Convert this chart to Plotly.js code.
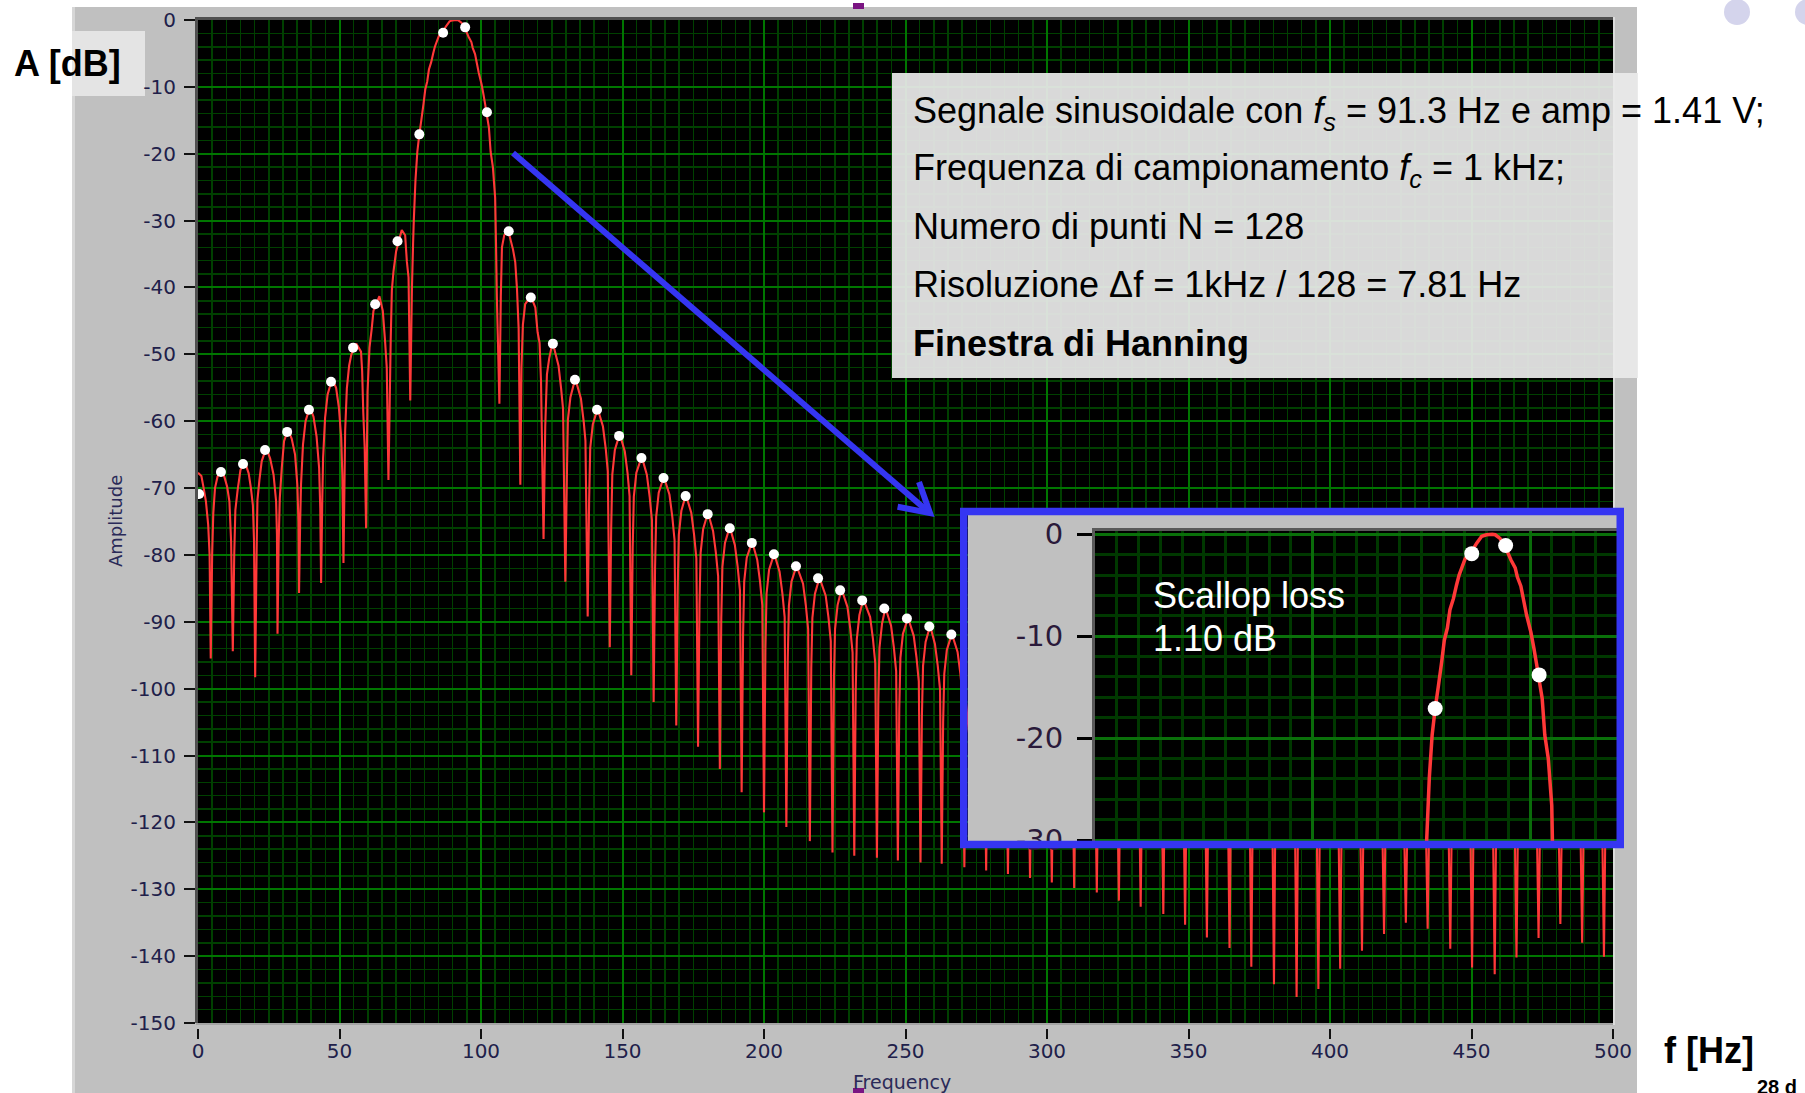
<!DOCTYPE html>
<html><head><meta charset="utf-8">
<script src="https://cdn.plot.ly/plotly-3.0.1.min.js"></script>
<style>html,body{margin:0;padding:0;background:#fff;overflow:hidden}#chart{width:1805px;height:1093px}</style>
</head><body><div id="chart"></div>
<script>
// ---------------- data ----------------
// red curve: zero-padded spectrum, frequency [Hz]
const specF = [
  0, 1.2, 2.0, 2.8, 3.6, 4.1, 4.5,
  5.0, 5.4, 6.0, 6.9, 8.1, 9.3, 10.3, 11.1, 11.7, 12.3,
  12.8, 13.2, 14.0, 15.0, 16.5, 17.9, 18.7, 19.4, 19.8, 20.2,
  20.7, 21.0, 21.7, 22.5, 24.1, 25.5, 26.7, 27.6, 27.9, 28.1,
  28.5, 28.9, 29.6, 30.4, 31.8, 33.1, 34.3, 35.1, 35.5, 35.7,
  36.1, 36.4, 37.1, 38.0, 39.5, 40.8, 41.9, 42.8, 43.2, 43.5,
  43.9, 44.2, 44.9, 45.8, 47.4, 48.8, 49.8, 50.6, 51.0, 51.4,
  51.8, 52.0, 52.6, 53.4, 54.2, 55.9, 57.6, 58.0, 58.4, 58.9, 59.4,
  59.9, 60.6, 61.4, 62.0, 64.1, 65.3, 66.1, 66.7, 67.3,
  68.1, 68.5, 69.1, 70.0, 72.0, 73.2, 73.8, 74.4, 75.0,
  75.6, 76.0, 76.25, 76.85, 77.5, 78.2, 78.9, 79.7, 80.3, 81.0, 81.6, 82.4, 83.1, 83.7, 84.4, 85.1,
  86.6, 87.7, 88.9, 90.0, 91.3, 92.0, 93.1, 94.4, 95.6, 96.6, 97.1, 97.9, 98.5, 99.2, 100.2, 100.9,
  101.5, 102.1, 102.8, 103.4, 104.2, 105.0, 105.3, 105.6, 106.0, 106.5,
  107.0, 107.4, 108.2, 109.5, 111.3, 112.1, 112.7, 113.3, 113.9,
  114.3, 114.8, 115.6, 117.6, 119.2, 120.0, 120.7, 121.2, 122.1,
  122.7, 123.3, 124.1, 125.3, 127.4, 128.3, 129.0, 129.8,
  130.4, 130.7, 131.6, 133.3, 135.3, 136.3, 136.9, 137.7,
  138.2, 138.6, 139.5, 141.2, 143.1, 144.1, 144.8, 145.5,
  146.0, 146.4, 147.3, 149.0, 150.8, 151.8, 152.5, 153.1,
  153.6, 154.0, 154.9, 156.8, 158.6, 159.6, 160.4, 161.0,
  161.5, 161.9, 162.8, 164.6, 166.6, 167.6, 168.4, 169.0,
  169.5, 169.9, 170.8, 172.4, 174.3, 175.3, 176.1, 176.7,
  177.2, 177.6, 178.5, 180.2, 182.0, 183.0, 183.8, 184.4,
  184.9, 185.3, 186.2, 187.9, 189.7, 190.7, 191.5, 192.1,
  192.6, 193.0, 193.9, 195.8, 197.6, 198.6, 199.4, 200.0,
  200.5, 200.9, 201.8, 203.6, 205.5, 206.5, 207.3, 207.9,
  208.4, 208.8, 209.7, 211.5, 213.8, 214.8, 215.6, 216.2,
  216.7, 217.1, 218.0, 219.6, 221.8, 222.8, 223.6, 224.2,
  224.7, 225.1, 226.0, 227.4, 229.5, 230.5, 231.3, 231.9,
  232.4, 232.8, 233.7, 235.1, 237.5, 238.5, 239.3, 239.9,
  240.4, 240.8, 241.7, 242.9, 244.9, 245.9, 246.7, 247.3,
  247.8, 248.2, 249.1, 250.9, 252.9, 253.9, 254.7, 255.3,
  255.8, 256.2, 257.1, 258.7, 260.4, 261.4, 262.2, 262.8,
  263.3, 263.7, 264.6, 266.4, 268.4, 269.4, 270.2, 270.8,
  271.3, 274.6, 277.9, 278.5,
  279.0, 282.4, 285.6, 286.2,
  286.7, 290.1, 293.4, 294.0,
  294.5, 297.9, 301.1, 301.7,
  302.2, 305.7, 309.0, 309.6,
  310.1, 313.6, 317.0, 317.6,
  318.1, 321.5, 324.8, 325.4,
  325.9, 329.3, 332.5, 333.1,
  333.6, 337.1, 340.5, 341.1,
  341.6, 345.0, 348.2, 348.8,
  349.3, 352.7, 355.9, 356.5,
  357.0, 360.5, 363.9, 364.5,
  365.0, 368.4, 371.6, 372.2,
  372.7, 376.2, 379.6, 380.2,
  380.7, 384.2, 387.6, 388.2,
  388.7, 392.1, 395.3, 395.9,
  396.4, 399.8, 403.0, 403.6,
  404.1, 407.5, 410.7, 411.3,
  411.8, 415.2, 418.5, 419.1,
  419.6, 423.0, 426.2, 426.8,
  427.3, 430.7, 433.9, 434.5,
  435.0, 438.5, 441.9, 442.5,
  443.0, 446.4, 449.6, 450.2,
  450.7, 454.2, 457.6, 458.2,
  458.7, 462.1, 465.3, 465.9,
  466.4, 469.8, 473.1, 473.7,
  474.2, 477.6, 480.8, 481.4,
  481.9, 485.3, 488.5, 489.1,
  489.6, 493.0, 496.2, 496.8,
  497.3, 500.0
];
// red curve amplitude [dB]
const specDb = [
  -67.7, -68.2, -70.0, -72.0, -75.5, -80.0, -95.5,
  -80.0, -73.8, -70.0, -68.3, -67.3, -68.3, -69.8, -72.0, -78.0, -94.4,
  -80.0, -73.3, -70.3, -67.3, -66.0, -67.8, -70.0, -72.6, -78.0, -98.3,
  -80.0, -71.8, -68.8, -66.0, -64.0, -65.6, -68.0, -72.0, -77.0, -91.8,
  -78.0, -71.5, -67.0, -63.0, -61.3, -62.6, -65.0, -69.5, -75.0, -85.7,
  -75.0, -69.5, -63.5, -60.0, -57.9, -59.3, -62.3, -67.0, -73.0, -84.2,
  -72.0, -65.5, -59.5, -56.0, -53.7, -55.0, -58.0, -62.5, -68.0, -81.2,
  -68.0, -61.4, -55.1, -51.7, -50.0, -48.4, -49.6, -52.5, -58.7, -64.0, -76.0,
  -55.6, -49.0, -46.1, -43.5, -41.3, -43.5, -48.0, -52.0, -68.8,
  -47.7, -40.4, -37.5, -34.6, -31.4, -32.2, -36.1, -38.5, -56.9,
  -40.0, -33.5, -30.0, -23.9, -19.7, -17.1, -15.0, -12.5, -10.4, -9.2, -7.4, -6.3, -5.0, -4.0, -3.2, -2.4,
  -1.7, -0.9, -0.2, -0.05, 0.0, -0.05, -0.4, -1.3, -2.5, -3.3, -4.2, -5.1, -6.4, -7.9, -9.6, -11.2,
  -12.7, -14.3, -16.1, -19.7, -22.0, -26.6, -33.3, -41.4, -48.3, -57.4,
  -41.4, -34.0, -32.2, -31.3, -34.3, -36.2, -40.1, -46.1, -69.5,
  -52.0, -45.6, -42.5, -41.3, -43.0, -46.7, -48.3, -54.0, -77.6,
  -60.8, -53.0, -50.6, -48.2, -51.7, -55.1, -58.2, -84.0,
  -66.9, -59.8, -56.4, -53.6, -56.6, -60.1, -62.9, -89.2,
  -72.0, -64.0, -60.5, -58.1, -60.8, -64.2, -67.5, -93.8,
  -76.0, -68.0, -64.3, -61.9, -64.5, -67.8, -71.2, -98.0,
  -79.0, -71.3, -67.7, -65.3, -68.0, -71.3, -74.8, -102.0,
  -82.0, -74.3, -70.7, -68.3, -71.0, -74.3, -77.8, -105.5,
  -85.0, -77.0, -73.4, -71.0, -73.7, -77.0, -80.5, -108.7,
  -87.5, -79.7, -76.1, -73.7, -76.4, -79.7, -83.2, -112.0,
  -89.5, -81.8, -78.2, -75.8, -78.5, -81.8, -85.3, -115.5,
  -92.0, -84.0, -80.4, -78.0, -80.7, -84.0, -87.5, -118.5,
  -94.0, -85.8, -82.2, -79.8, -82.5, -85.8, -89.3, -120.7,
  -95.5, -87.6, -84.0, -81.6, -84.3, -87.6, -91.1, -122.8,
  -97.0, -89.4, -85.8, -83.4, -86.1, -89.4, -92.9, -124.5,
  -99.0, -91.1, -87.5, -85.1, -87.8, -91.1, -94.6, -125.0,
  -100.5, -92.6, -89.0, -86.6, -89.3, -92.6, -96.1, -125.3,
  -102.0, -93.9, -90.3, -87.9, -90.6, -93.9, -97.4, -125.7,
  -103.0, -95.4, -91.8, -89.4, -92.1, -95.4, -98.9, -126.0,
  -104.0, -96.6, -93.0, -90.6, -93.3, -96.6, -100.1, -126.2,
  -105.0, -97.8, -94.2, -91.8, -94.5, -97.8, -101.3, -126.7,
  -107.0, -93.0, -107.0, -127.2,
  -108.0, -94.0, -108.0, -127.7,
  -109.0, -95.0, -109.0, -128.3,
  -110.0, -96.0, -110.0, -129.0,
  -110.9, -96.9, -110.9, -129.8,
  -111.8, -97.8, -111.8, -130.5,
  -112.7, -98.7, -112.7, -131.7,
  -113.5, -99.5, -113.5, -132.6,
  -114.3, -100.3, -114.3, -133.7,
  -115.1, -101.1, -115.1, -135.3,
  -115.9, -101.9, -115.9, -137.2,
  -116.6, -102.6, -116.6, -138.8,
  -117.3, -103.3, -117.3, -141.6,
  -118.0, -104.0, -118.0, -144.2,
  -118.7, -104.7, -118.7, -146.1,
  -119.3, -105.3, -119.3, -144.9,
  -119.9, -105.9, -119.9, -141.9,
  -120.5, -106.5, -120.5, -139.2,
  -121.0, -107.0, -121.0, -136.7,
  -121.0, -107.5, -121.0, -135.0,
  -121.0, -108.0, -121.0, -135.9,
  -121.0, -108.4, -121.0, -138.9,
  -121.0, -108.8, -121.0, -141.7,
  -121.0, -109.2, -121.0, -142.7,
  -121.0, -109.5, -121.0, -140.2,
  -121.0, -109.8, -121.0, -137.3,
  -121.0, -110.1, -121.0, -135.2,
  -121.0, -110.3, -121.0, -138.0,
  -121.0, -110.5, -121.0, -140.1,
  -121.0, -110.6
];
// white dots: 128-point DFT bins (visible ones)
const binF = [0.4, 8.1, 15.9, 23.7, 31.5, 39.2, 47.0, 54.8, 62.6, 70.5, 78.2, 86.6, 94.4, 102.1,
  109.8, 117.6, 125.4, 133.2, 141.0, 148.8, 156.7, 164.5, 172.3, 180.1, 187.9, 195.7, 203.5,
  211.3, 219.1, 226.9, 234.7, 242.5, 250.5, 258.4, 266.2];
const binDb = [-70.9, -67.6, -66.4, -64.3, -61.6, -58.3, -54.1, -49.0, -42.5, -33.1, -17.1, -1.9, -1.1, -13.8,
  -31.6, -41.5, -48.4, -53.8, -58.3, -62.2, -65.5, -68.5, -71.2, -73.9, -76.0, -78.2, -79.9,
  -81.7, -83.5, -85.3, -86.8, -88.0, -89.5, -90.7, -91.9];

// tick labels
const yTickVals = [0, -10, -20, -30, -40, -50, -60, -70, -80, -90, -100, -110, -120, -130, -140, -150];
const yTickText = ['0', '-10', '-20', '-30', '-40', '-50', '-60', '-70', '-80', '-90', '-100', '-110', '-120', '-130', '-140', '-150'];
const insetTickVals = [0, -10, -20, -30];
const insetTickText = ['0', '-10', '-20', '-30'];

// texts
const infoLines = [
  'Segnale sinusoidale con <i>f</i><sub><i>s</i></sub> = 91.3 Hz e amp = 1.41 V;',
  'Frequenza di campionamento <i>f</i><sub><i>c</i></sub> = 1 kHz;',
  'Numero di punti N = 128',
  'Risoluzione \u0394f = 1kHz / 128 = 7.81 Hz',
  '<b>Finestra di Hanning</b>'
];
const scallopLines = ['Scallop loss', '1.10 dB'];

// ---------------- layout helpers (pixels -> paper) ----------------
const W = 1805, H = 1093;
const px = x => x / W;
const py = y => 1 - y / H;
const LV = 'DejaVu Sans, Verdana, sans-serif';
const AR = 'Liberation Sans, Arial, Helvetica, sans-serif';
const RED = '#ff3838';
const BLUE = '#3535f2';
const GMAJ = 'rgb(0,118,0)', GMIN = 'rgb(0,64,0)';

const traces = [
  {type: 'scatter', mode: 'lines', x: specF, y: specDb, xaxis: 'x', yaxis: 'y',
   line: {color: RED, width: 2.1, simplify: false}, hoverinfo: 'skip', showlegend: false},
  {type: 'scatter', mode: 'markers', x: binF, y: binDb, xaxis: 'x', yaxis: 'y',
   marker: {color: '#ffffff', size: 10}, hoverinfo: 'skip', showlegend: false},
  {type: 'scatter', mode: 'markers', x: [], y: [], xaxis: 'x2', yaxis: 'y2', hoverinfo: 'skip', showlegend: false},
  {type: 'scatter', mode: 'lines', x: specF, y: specDb, xaxis: 'x3', yaxis: 'y3',
   line: {color: RED, width: 3.5, simplify: false}, hoverinfo: 'skip', showlegend: false},
  {type: 'scatter', mode: 'markers', x: binF, y: binDb, xaxis: 'x3', yaxis: 'y3',
   marker: {color: '#ffffff', size: 15}, hoverinfo: 'skip', showlegend: false}
];

function rectPx(x0, y0, x1, y1, fill, layer) {
  return {type: 'rect', xref: 'paper', yref: 'paper', x0: px(x0), x1: px(x1), y0: py(y1), y1: py(y0),
          fillcolor: fill, line: {width: 0}, layer: layer || 'below'};
}
function pathPx(pts) {
  return pts.map((p, i) => (i ? 'L' : 'M') + px(p[0]).toFixed(5) + ',' + py(p[1]).toFixed(5)).join(' ');
}
function ann(text, x, y, opts) {
  return Object.assign({xref: 'paper', yref: 'paper', x: px(x), y: py(y), text: text, showarrow: false,
    xanchor: 'left', yanchor: 'middle', borderpad: 0}, opts || {});
}

const shapes = [
  // white surroundings of the LabVIEW panel
  rectPx(0, 0, 72, 1093, '#ffffff'),
  rectPx(0, 0, 1805, 7, '#ffffff'),
  rectPx(1637, 0, 1805, 1093, '#ffffff'),
  rectPx(72, 7, 75, 1093, '#d6d6d6'),
  // A [dB] label box
  rectPx(72, 31, 145, 96, '#e4e4e4'),
  // decorative circles top right
  {type: 'circle', xref: 'paper', yref: 'paper', x0: px(1724), x1: px(1750), y0: py(25), y1: py(-1),
   fillcolor: '#d4d4ec', line: {width: 0}, layer: 'below'},
  {type: 'circle', xref: 'paper', yref: 'paper', x0: px(1795), x1: px(1821), y0: py(25), y1: py(-1),
   fillcolor: '#d4d4ec', line: {width: 0}, layer: 'below'},
  // cursor marks
  rectPx(853, 3, 864, 9, '#7a1482'),
  rectPx(853, 1088, 864, 1093, '#7a1482'),
  // main plot frame
  rectPx(196, 17, 1615, 20, '#505050'),
  rectPx(195, 17, 198, 1023, '#505050'),
  rectPx(196, 1023, 1615, 1025, '#a4a4a4'),
  rectPx(1613, 17, 1615, 1025, '#dcdcdc'),
  // gray inset panel (on its own layer over the main plot)
  {type: 'rect', xref: 'x2', yref: 'y2', x0: 0, x1: 1, y0: 0, y1: 1, fillcolor: '#c0c0c0', line: {width: 0}, layer: 'below'},
  // text box over the plot
  rectPx(892, 73, 1638, 378, 'rgba(234,234,234,0.93)', 'above'),
  // inset plot frame
  rectPx(1092, 528, 1095, 848, '#5a5a5a', 'above'),
  rectPx(1092, 528, 1617, 531, '#5a5a5a', 'above'),
  // blue inset border
  {type: 'rect', xref: 'paper', yref: 'paper', x0: px(963.75), x1: px(1620.25), y0: py(844.5), y1: py(511.5),
   line: {color: BLUE, width: 7.5}, fillcolor: 'rgba(0,0,0,0)', layer: 'above'},
  // blue arrow
  {type: 'path', xref: 'paper', yref: 'paper', path: pathPx([[513, 153], [928, 511.5]]),
   line: {color: BLUE, width: 6}, layer: 'above'},
  {type: 'path', xref: 'paper', yref: 'paper', path: pathPx([[919, 482], [930, 513], [897.6, 506.8]]),
   line: {color: BLUE, width: 6}, layer: 'above'}
];

const annotations = [];
const infoY = [113, 170, 227, 284, 343];
infoLines.forEach((t, i) => annotations.push(ann(t, 912, infoY[i], {font: {family: AR, size: 36, color: '#000'}})));
const scY = [595, 638];
scallopLines.forEach((t, i) => annotations.push(ann(t, 1152, scY[i], {font: {family: AR, size: 36, color: '#ffffff'}})));
annotations.push(ann('<b>A [dB]</b>', 13, 64, {font: {family: AR, size: 36, color: '#000'}}));
annotations.push(ann('<b>f [Hz]</b>', 1663, 1050, {font: {family: AR, size: 36, color: '#000'}}));
annotations.push(ann('<b>28 d</b>', 1756, 1087, {font: {family: AR, size: 20, color: '#000'}}));
annotations.push(ann('Amplitude', 115, 521, {xanchor: 'center', textangle: -90, font: {family: LV, size: 18, color: '#2a2a58'}}));
annotations.push(ann('Frequency', 902, 1082, {xanchor: 'center', font: {family: LV, size: 19, color: '#2a2a58'}}));

const tickFont = {family: LV, size: 20, color: '#20204a'};
const layout = {
  width: W, height: H, autosize: false,
  margin: {l: 0, r: 0, t: 0, b: 0, pad: 0},
  paper_bgcolor: '#c0c0c0', plot_bgcolor: '#000000',
  showlegend: false,
  xaxis: {domain: [px(198), px(1613)], range: [0, 500], anchor: 'free', position: py(1028),
    tickmode: 'linear', tick0: 0, dtick: 50, ticks: 'outside', ticklen: 10, tickwidth: 2, tickcolor: '#111',
    tickfont: tickFont, ticklabelstandoff: -5,
    showgrid: true, gridcolor: GMAJ, gridwidth: 2, zeroline: false, showline: false,
    minor: {tickmode: 'linear', tick0: 0, dtick: 5, showgrid: true, gridcolor: GMIN, gridwidth: 1.5},
    fixedrange: true},
  yaxis: {domain: [py(1023), py(20)], range: [-150, 0], anchor: 'free', position: px(195),
    tickmode: 'array', tickvals: yTickVals, ticktext: yTickText,
    ticks: 'outside', ticklen: 11, tickwidth: 2, tickcolor: '#111', tickfont: tickFont, ticklabelstandoff: 4,
    showgrid: true, gridcolor: GMAJ, gridwidth: 2, zeroline: false, showline: false,
    minor: {tickmode: 'linear', tick0: 0, dtick: 2, showgrid: true, gridcolor: GMIN, gridwidth: 1.5},
    fixedrange: true},
  xaxis2: {domain: [px(968), px(1617)], range: [0, 1], anchor: 'y2', visible: false, fixedrange: true},
  yaxis2: {domain: [py(841), py(515)], range: [0, 1], anchor: 'x2', visible: false, fixedrange: true},
  xaxis3: {domain: [px(1095), px(1617)], range: [0, 120], anchor: 'y3',
    tickmode: 'linear', tick0: 0, dtick: 50, showticklabels: false, ticks: '',
    showgrid: true, gridcolor: 'rgb(10,108,10)', gridwidth: 3, zeroline: false, showline: false,
    minor: {tickmode: 'linear', tick0: 0, dtick: 5, showgrid: true, gridcolor: 'rgb(0,56,0)', gridwidth: 3},
    fixedrange: true},
  yaxis3: {domain: [py(848), py(531)], range: [-30.78, 0.32], anchor: 'free', position: px(1092),
    tickmode: 'array', tickvals: insetTickVals, ticktext: insetTickText,
    ticks: 'outside', ticklen: 15, tickwidth: 3, tickcolor: '#000',
    tickfont: {family: LV, size: 29, color: '#2a1a3a'}, ticklabelstandoff: 8,
    showgrid: true, gridcolor: 'rgb(10,112,10)', gridwidth: 3, zeroline: false, showline: false,
    minor: {tickmode: 'linear', tick0: 0, dtick: 2, showgrid: true, gridcolor: 'rgb(0,56,0)', gridwidth: 3},
    fixedrange: true},
  shapes: shapes,
  annotations: annotations
};

Plotly.newPlot('chart', traces, layout, {staticPlot: true, displayModeBar: false});
</script>
</body></html>
